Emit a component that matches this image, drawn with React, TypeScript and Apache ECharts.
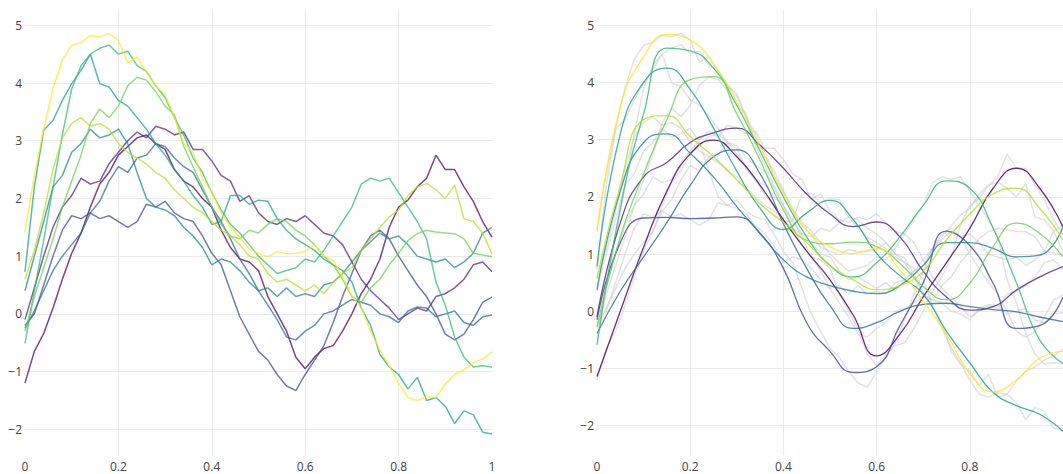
import { useEffect, useRef } from "react";
import * as echarts from "echarts";

// x positions of the raw (noisy) samples and of the fitted curves
const T_RAW = [
  0, 0.02, 0.04, 0.06, 0.08, 0.1, 0.12, 0.14, 0.16, 0.18, 0.2, 0.22, 0.24, 0.26, 0.28, 0.3, 0.32,
  0.34, 0.36, 0.38, 0.4, 0.42, 0.44, 0.46, 0.48, 0.5, 0.52, 0.54, 0.56, 0.58, 0.6, 0.62, 0.64,
  0.66, 0.68, 0.7, 0.72, 0.74, 0.76, 0.78, 0.8, 0.82, 0.84, 0.86, 0.88, 0.9, 0.92, 0.94, 0.96,
  0.98, 1,
];
const T_FIT = [
  0, 0.05, 0.1, 0.15, 0.2, 0.25, 0.3, 0.35, 0.4, 0.45, 0.5, 0.55, 0.6, 0.65, 0.7, 0.75, 0.8,
  0.85, 0.9, 0.95, 1,
];

const Y_TICKS = [-2, -1, 0, 1, 2, 3, 4, 5];

const VIRIDIS = [
  "#440154", "#482878", "#3e4989", "#31688e", "#26828e",
  "#1f9e89", "#35b779", "#6ece58", "#b5de2b", "#fde725",
];

// raw noisy series (left panel, and grey in right panel)
const darkPurpleRaw = [-1.2, -0.65, -0.34, 0.1, 0.6, 1.05, 1.4, 1.85, 2.25, 2.45, 2.75, 2.9, 3.05, 3.1, 2.95, 2.85, 2.5, 2.3, 2.2, 2.0, 1.85, 1.45, 1.15, 0.95, 0.9, 0.75, 0.3, 0.0, -0.3, -0.75, -0.95, -0.75, -0.6, -0.55, -0.3, 0.0, 0.35, 0.6, 0.95, 1.5, 1.85, 1.97, 2.2, 2.35, 2.75, 2.5, 2.5, 2.2, 1.95, 1.6, 1.33];
const purpleRaw = [-0.1, 0.45, 1.0, 1.5, 1.85, 2.05, 2.35, 2.25, 2.3, 2.6, 2.8, 3.0, 3.15, 3.05, 3.25, 3.2, 3.1, 3.15, 2.85, 2.85, 2.65, 2.4, 2.3, 1.95, 2.05, 1.75, 1.6, 1.55, 1.65, 1.6, 1.7, 1.55, 1.4, 1.35, 1.2, 0.9, 0.6, 0.4, 0.25, 0.1, -0.1, 0.0, 0.1, 0.05, 0.3, 0.35, 0.45, 0.6, 0.85, 0.9, 0.73];
const darkBlueRaw = [-0.2, 0.0, 0.5, 1.0, 1.45, 1.7, 1.65, 1.75, 1.65, 1.7, 1.6, 1.5, 1.6, 1.9, 1.85, 1.95, 1.75, 1.65, 1.6, 1.35, 1.05, 0.85, 0.4, -0.05, -0.35, -0.65, -0.8, -1.05, -1.25, -1.33, -1.05, -0.8, -0.55, -0.15, 0.3, 0.7, 1.1, 1.35, 1.45, 1.3, 1.0, 0.75, 0.5, 0.3, 0.0, -0.35, -0.45, -0.35, -0.1, 0.2, 0.29];
const blueRaw = [-0.25, 0.05, 0.4, 0.75, 1.0, 1.2, 1.4, 1.75, 1.95, 2.3, 2.55, 2.45, 2.7, 2.75, 2.95, 2.9, 2.7, 2.55, 2.45, 2.15, 1.85, 1.6, 1.3, 0.95, 0.7, 0.4, 0.15, -0.1, -0.4, -0.45, -0.3, -0.2, 0.0, 0.05, 0.15, 0.25, 0.2, 0.15, 0.0, -0.05, -0.15, 0.05, 0.12, 0.1, -0.05, 0.0, 0.05, -0.15, -0.2, -0.05, -0.02];
const tealBlueRaw = [0.4, 1.0, 1.6, 2.2, 2.4, 2.8, 2.95, 3.2, 3.05, 3.1, 3.2, 2.95, 2.45, 2.0, 1.85, 1.8, 1.7, 1.5, 1.35, 1.15, 0.85, 0.95, 0.9, 0.75, 0.55, 0.4, 0.45, 0.3, 0.45, 0.3, 0.35, 0.3, 0.5, 0.55, 0.7, 0.9, 1.1, 1.25, 1.4, 1.3, 1.35, 1.2, 1.0, 0.95, 0.9, 0.95, 0.8, 0.9, 1.05, 1.4, 1.5];
const tealRaw = [0.73, 2.2, 3.18, 3.35, 3.7, 3.99, 4.22, 4.5, 3.99, 3.93, 3.7, 3.6, 3.4, 3.2, 2.95, 2.75, 2.5, 2.3, 2.05, 1.85, 1.55, 1.6, 2.05, 2.05, 1.9, 1.97, 1.95, 1.65, 1.45, 1.3, 1.2, 1.1, 0.95, 0.85, 0.75, 0.55, 0.1, -0.2, -0.7, -0.92, -1.05, -1.3, -1.1, -1.5, -1.45, -1.6, -1.9, -1.68, -1.75, -2.05, -2.08];
const mintRaw = [-0.51, 0.4, 1.27, 2.2, 3.1, 3.9, 4.3, 4.5, 4.6, 4.66, 4.5, 4.55, 4.3, 4.2, 3.95, 3.75, 3.4, 3.1, 2.7, 2.45, 2.1, 1.8, 1.55, 1.4, 1.2, 1.0, 0.85, 0.7, 0.75, 0.8, 0.95, 0.9, 1.1, 1.35, 1.6, 1.85, 2.25, 2.35, 2.3, 2.35, 2.1, 1.85, 1.6, 1.3, 0.55, 0.15, -0.4, -0.75, -0.92, -0.9, -0.92];
const lightGreenRaw = [-0.3, 0.3, 0.8, 1.3, 1.85, 2.3, 2.75, 3.3, 3.55, 3.4, 3.6, 3.95, 4.1, 4.05, 3.85, 3.6, 3.45, 2.9, 2.55, 2.2, 1.85, 1.55, 1.35, 1.3, 1.45, 1.4, 1.55, 1.65, 1.6, 1.45, 1.35, 1.2, 1.0, 0.85, 0.6, 0.3, 0.2, 0.45, 0.6, 0.85, 1.05, 1.27, 1.39, 1.45, 1.42, 1.4, 1.39, 1.3, 1.05, 1.02, 0.99];
const yellowGreenRaw = [0.6, 1.1, 1.75, 2.5, 3.05, 3.3, 3.4, 3.25, 3.3, 3.2, 2.95, 2.8, 2.7, 2.6, 2.45, 2.35, 2.15, 2.0, 1.85, 1.75, 1.6, 1.45, 1.35, 1.2, 1.0, 0.95, 0.7, 0.55, 0.6, 0.5, 0.4, 0.5, 0.35, 0.55, 0.7, 0.8, 1.1, 1.3, 1.5, 1.68, 1.8, 2.05, 2.2, 2.26, 2.15, 2.0, 2.23, 1.65, 1.6, 1.4, 1.04];
const yellowRaw = [1.42, 2.4, 3.2, 3.9, 4.4, 4.65, 4.7, 4.82, 4.8, 4.86, 4.74, 4.35, 4.45, 4.2, 3.95, 3.8, 3.4, 2.95, 2.8, 2.35, 2.1, 1.75, 1.5, 1.33, 1.12, 1.05, 0.99, 1.08, 1.04, 1.05, 1.08, 1.2, 1.0, 0.93, 0.65, 0.32, 0.1, -0.3, -0.63, -0.9, -1.2, -1.45, -1.5, -1.43, -1.45, -1.22, -1.05, -0.97, -0.85, -0.78, -0.66];

// fitted smooth curves (right panel)
const darkPurpleFit = [-1.14, 0.0, 1.12, 2.1, 2.75, 2.99, 2.7, 2.2, 1.6, 1.05, 0.55, -0.07, -0.78, -0.4, 0.25, 0.85, 1.45, 2.15, 2.5, 2.15, 1.47];
const purpleFit = [-0.1, 1.55, 2.35, 2.6, 2.95, 3.12, 3.2, 2.9, 2.5, 2.05, 1.7, 1.48, 1.56, 1.3, 0.7, 0.25, 0.02, 0.08, 0.37, 0.6, 0.78];
const darkBlueFit = [-0.15, 1.2, 1.63, 1.64, 1.62, 1.63, 1.65, 1.36, 0.75, -0.2, -0.7, -1.07, -0.97, -0.25, 0.5, 1.4, 1.15, 0.49, -0.3, -0.25, 0.25];
const blueFit = [-0.39, 0.35, 0.95, 1.55, 2.2, 2.7, 2.82, 2.4, 1.53, 0.75, 0.1, -0.3, -0.2, 0.0, 0.12, 0.14, 0.08, 0.03, -0.01, -0.1, -0.18];
const tealBlueFit = [0.37, 2.1, 2.95, 3.1, 2.76, 2.35, 1.83, 1.36, 0.9, 0.6, 0.45, 0.35, 0.31, 0.45, 0.8, 1.2, 1.2, 1.1, 0.95, 0.98, 1.48];
const tealFit = [0.78, 3.1, 4.0, 4.25, 3.88, 3.2, 2.45, 1.8, 1.43, 1.72, 1.94, 1.6, 1.01, 0.62, 0.3, -0.35, -0.9, -1.42, -1.65, -1.8, -2.1];
const mintFit = [-0.59, 1.8, 3.45, 4.6, 4.55, 4.25, 3.6, 2.8, 2.0, 1.3, 0.8, 0.6, 0.85, 1.3, 1.85, 2.28, 2.15, 1.45, 0.5, -0.5, -0.91];
const lightGreenFit = [-0.27, 1.3, 2.4, 3.35, 4.05, 4.1, 3.45, 2.64, 1.77, 1.24, 1.18, 1.21, 1.13, 0.84, 0.43, 0.2, 0.49, 1.13, 1.54, 1.36, 0.95];
const yellowGreenFit = [0.57, 2.2, 3.35, 3.42, 3.05, 2.7, 2.3, 1.88, 1.55, 1.2, 0.8, 0.55, 0.38, 0.45, 0.7, 1.25, 1.7, 2.05, 2.15, 1.8, 1.24];
const yellowFit = [1.39, 3.57, 4.45, 4.84, 4.74, 4.33, 3.66, 2.87, 2.06, 1.42, 1.13, 1.01, 1.1, 0.72, 0.18, -0.4, -1.09, -1.41, -1.2, -0.82, -0.7];

const RAW = [darkPurpleRaw, purpleRaw, darkBlueRaw, blueRaw, tealBlueRaw, tealRaw, mintRaw, lightGreenRaw, yellowGreenRaw, yellowRaw];
const FIT = [darkPurpleFit, purpleFit, darkBlueFit, blueFit, tealBlueFit, tealFit, mintFit, lightGreenFit, yellowGreenFit, yellowFit];

const pairs = (xs: number[], ys: number[]) => xs.map((x, i) => [x, ys[i]]);
const fmtY = (v: number) => (v < 0 ? "\u2212" + Math.abs(v) : String(v));

const GRID_COLOR = "#ebebeb";
const LABEL = { color: "#444", fontFamily: "Open Sans", fontSize: 12 };

function frameX(gridIndex: number, hideMax: boolean) {
  return {
    gridIndex,
    type: "value",
    min: 0,
    max: 1,
    interval: 0.2,
    axisLine: { show: false },
    axisTick: { show: false },
    splitLine: { show: true, showMinLine: false, showMaxLine: false, lineStyle: { color: GRID_COLOR, width: 1 } },
    axisLabel: { ...LABEL, margin: 5, showMaxLabel: !hideMax, showMinLabel: true },
  };
}
function dataY(gridIndex: number) {
  return {
    gridIndex,
    type: "value",
    min: Y_TICKS[0],
    max: Y_TICKS[Y_TICKS.length - 1],
    interval: 1,
    axisLine: { show: false },
    axisTick: { show: false },
    splitLine: { show: true, lineStyle: { color: GRID_COLOR, width: 1 } },
    axisLabel: { ...LABEL, margin: 3, formatter: fmtY },
  };
}

export default function App() {
  const ref = useRef<HTMLDivElement>(null);
  useEffect(() => {
    if (!ref.current) return;
    const chart = echarts.init(ref.current, undefined, { renderer: "svg" });
    const series: any[] = [];
    RAW.forEach((ys, i) => {
      series.push({
        type: "line",
        xAxisIndex: 1,
        yAxisIndex: 1,
        data: pairs(T_RAW, ys),
        showSymbol: false,
        symbol: "none",
        clip: false,
        silent: true,
        lineStyle: { color: VIRIDIS[i], width: 1.5, opacity: 0.72 },
      });
    });
    RAW.forEach((ys) => {
      series.push({
        type: "line",
        xAxisIndex: 3,
        yAxisIndex: 3,
        data: pairs(T_RAW, ys),
        showSymbol: false,
        symbol: "none",
        clip: false,
        silent: true,
        lineStyle: { color: "#c8c8c8", width: 1.5, opacity: 0.5 },
      });
    });
    FIT.forEach((ys, i) => {
      series.push({
        type: "line",
        xAxisIndex: 3,
        yAxisIndex: 3,
        data: pairs(T_FIT, ys),
        smooth: 0.5,
        showSymbol: false,
        symbol: "none",
        clip: false,
        silent: true,
        lineStyle: { color: VIRIDIS[i], width: 1.3, opacity: 0.8 },
      });
    });
    chart.setOption({
      animation: false,
      grid: [
        { left: 25, top: 10, width: 467, height: 445 },
        { left: 25, top: 25.3, width: 467, height: 404 },
        { left: 597, top: 10, width: 466.25, height: 445 },
        { left: 597, top: 25.2, width: 466.25, height: 400.5 },
      ],
      xAxis: [
        frameX(0, false),
        { gridIndex: 1, type: "value", min: 0, max: 1, show: false },
        frameX(2, true),
        { gridIndex: 3, type: "value", min: 0, max: 1, show: false },
      ],
      yAxis: [
        { gridIndex: 0, type: "value", min: 0, max: 1, show: false },
        dataY(1),
        { gridIndex: 2, type: "value", min: 0, max: 1, show: false },
        dataY(3),
      ],
      series,
    });
    return () => chart.dispose();
  }, []);
  return (
    <div
      ref={ref}
      style={{ position: "fixed", left: 0, top: 0, width: 1063, height: 474, background: "#fff" }}
    />
  );
}
